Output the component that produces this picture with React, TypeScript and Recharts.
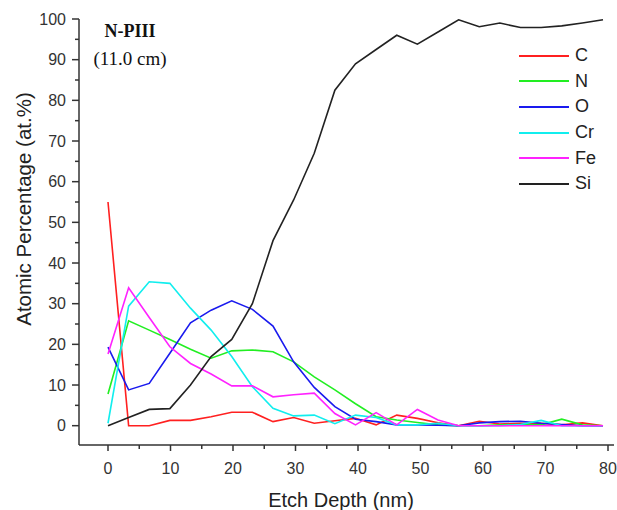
import { LineChart, Line, XAxis, YAxis, Legend } from "recharts";

const depth = [0, 3.3, 6.6, 9.9, 13.2, 16.5, 19.8, 23.1, 26.4, 29.7, 33, 36.3, 39.6, 42.9, 46.2, 49.5, 52.8, 56.1, 59.4, 62.7, 66, 69.3, 72.6, 75.9, 79.2];

const carbon = [55, 0, 0, 1.3, 1.3, 2.2, 3.3, 3.3, 1.0, 2.0, 0.6, 1.2, 1.8, 0.2, 2.6, 1.8, 0.7, 0, 1.1, 0.4, 0.6, 0.6, 0.2, 0.7, 0];
const nitrogen = [7.8, 25.8, 23.5, 21.2, 18.8, 16.6, 18.4, 18.6, 18.2, 15.7, 12.0, 8.8, 5.4, 2.2, 1.4, 0.8, 0.2, 0, 0, 0.2, 0.3, 0.2, 1.6, 0.2, 0];
const oxygen = [19.3, 8.8, 10.4, 17.8, 25.3, 28.4, 30.7, 28.6, 24.5, 15.7, 9.4, 4.7, 1.6, 1.0, 0.2, 0.2, 0.1, 0, 0.7, 1.0, 1.1, 0.6, 0.3, 0, 0];
const chromium = [0.6, 29.4, 35.4, 35.0, 28.9, 23.5, 17.0, 9.6, 4.3, 2.4, 2.6, 0.5, 2.6, 2.0, 0.2, 0.2, 0.6, 0, 0, 0, 0.3, 1.3, 0, 0, 0];
const iron = [17.6, 33.9, 26.6, 19.4, 15.3, 12.7, 9.8, 9.8, 7.1, 7.6, 8.0, 3.0, 0.2, 3.2, 0.2, 4.0, 1.4, 0, 0, 0, 0, 0, 0, 0, 0];
const silicon = [0, 2.0, 4.0, 4.2, 10.0, 17.0, 21.2, 30.0, 45.5, 55.5, 67.0, 82.5, 89.0, 92.5, 96.0, 93.8, 96.8, 99.8, 98.1, 99.0, 97.9, 97.9, 98.3, 99.0, 99.8];

const xTicks = [0, 5, 10, 15, 20, 25, 30, 35, 40, 45, 50, 55, 60, 65, 70, 75, 80];
const yTicks = [0, 5, 10, 15, 20, 25, 30, 35, 40, 45, 50, 55, 60, 65, 70, 75, 80, 85, 90, 95, 100];

const series = [
  { key: "C", color: "#ff2020" },
  { key: "N", color: "#22ee22" },
  { key: "O", color: "#1a1aee" },
  { key: "Cr", color: "#11eeee" },
  { key: "Fe", color: "#ff22ff" },
  { key: "Si", color: "#222222" },
];

const data = depth.map((d, i) => ({
  depth: d,
  C: carbon[i],
  N: nitrogen[i],
  O: oxygen[i],
  Cr: chromium[i],
  Fe: iron[i],
  Si: silicon[i],
}));

const sans = "'Liberation Sans', Arial, sans-serif";
const serif = "'Liberation Serif', 'Times New Roman', serif";
const axisColor = "#333";

function XTick(props: any) {
  const { x, y, payload } = props;
  const major = payload.value % 10 === 0;
  return (
    <g>
      <line x1={x} x2={x} y1={y} y2={y + (major ? 6 : 4)} stroke={axisColor} strokeWidth={1.5} />
      {major && (
        <text x={x} y={y + 23} textAnchor="middle" dominantBaseline="central" fontFamily={sans} fontSize={16} fill="#333">
          {payload.value}
        </text>
      )}
    </g>
  );
}

function YTick(props: any) {
  const { x, y, payload } = props;
  const major = payload.value % 10 === 0;
  return (
    <g>
      <line x1={x} x2={x - (major ? 7 : 4)} y1={y} y2={y} stroke={axisColor} strokeWidth={1.5} />
      {major && (
        <text x={x - 13} y={y} textAnchor="end" dominantBaseline="central" fontFamily={sans} fontSize={16} fill="#333">
          {payload.value}
        </text>
      )}
    </g>
  );
}

function XLabel() {
  return (
    <text x={341} y={500} textAnchor="middle" dominantBaseline="central" fontFamily={sans} fontSize={20} fill="#222">
      Etch Depth (nm)
    </text>
  );
}

function YLabel() {
  return (
    <text
      x={23}
      y={209}
      transform="rotate(-90 23 209)"
      textAnchor="middle"
      dominantBaseline="central"
      fontFamily={sans}
      fontSize={20.5}
      fill="#222"
    >
      Atomic Percentage (at.%)
    </text>
  );
}

function LegendBox() {
  return (
    <div style={{ fontFamily: sans, fontSize: 18, color: "#222" }}>
      {series.map((s) => (
        <div key={s.key} style={{ display: "flex", alignItems: "center", height: 25.6 }}>
          <div style={{ width: 50, height: 2, background: s.color, marginRight: 6 }} />
          <span>{s.key}</span>
        </div>
      ))}
    </div>
  );
}

export default function App() {
  return (
    <div style={{ position: "relative", width: 617, height: 510 }}>
      <style>{"body{margin:0;overflow:hidden}"}</style>
      <LineChart width={617} height={510} data={data} margin={{ top: 19, right: 3, bottom: 0, left: 29 }}>
        <XAxis
          dataKey="depth"
          type="number"
          domain={[-4.64, 80.96]}
          allowDataOverflow
          ticks={xTicks}
          interval={0}
          tickSize={0}
          tickMargin={0}
          tick={<XTick />}
          height={65}
          stroke={axisColor}
          strokeWidth={1.5}
          label={<XLabel />}
        />
        <YAxis
          type="number"
          domain={[-4.75, 100]}
          allowDataOverflow
          ticks={yTicks}
          interval={0}
          tickSize={0}
          tickMargin={0}
          tick={<YTick />}
          width={50}
          stroke={axisColor}
          strokeWidth={1.5}
          label={<YLabel />}
        />
        <Legend
          layout="vertical"
          align="center"
          verticalAlign="middle"
          content={<LegendBox />}
          wrapperStyle={{ left: 519, top: 43, width: 90 }}
        />
        {series.map((s) => (
          <Line
            key={s.key}
            dataKey={s.key}
            stroke={s.color}
            strokeWidth={1.6}
            dot={false}
            type="linear"
            isAnimationActive={false}
          />
        ))}
      </LineChart>
      <div style={{ position: "absolute", left: 80, top: 18, width: 100, textAlign: "center", fontFamily: serif, color: "#111", lineHeight: "27px" }}>
        <div style={{ fontWeight: "bold", fontSize: 18 }}>N-PIII</div>
        <div style={{ fontSize: 19 }}>(11.0 cm)</div>
      </div>
    </div>
  );
}
